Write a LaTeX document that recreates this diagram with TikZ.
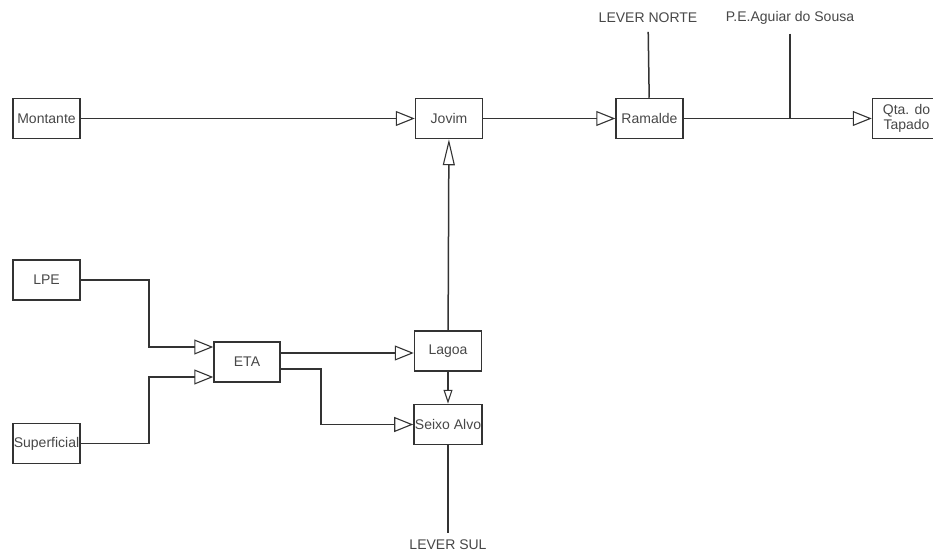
\documentclass[tikz,border=0pt]{standalone}
\usepackage{fontspec}
\setmainfont{Liberation Sans}
\usepackage{tikz}
\usetikzlibrary{arrows.meta, positioning, calc}
\tikzset{every node/.style={font=\fontsize{14}{15}\selectfont, text=black!72}}
\usepackage{xcolor}
\definecolor{wire}{HTML}{333333}

\begin{document}
\begin{tikzpicture}[x=1pt, y=-1pt, line width=1.5pt, draw=wire,
    box/.style={draw=wire, line width=1.5pt, minimum width=67pt, minimum height=40pt, inner sep=1pt},
    lbl/.style={inner sep=2pt, outer sep=7pt},
    arr/.style={-{Triangle[open, length=19pt, width=15pt, line width=1.1pt]}},
    arrup/.style={-{Triangle[open, length=26pt, width=12pt, line width=1.1pt]}},
    arrsm/.style={-{Triangle[open, length=14pt, width=9pt, line width=1.1pt]}}]
    \clip (0,0) rectangle (933,556);
    \node[box] (mont) at (46.5,118.5) {Montante};
    \node[box, right=334pt of mont] (jov) {Jovim};
    \node[box, right=132pt of jov] (ram) {Ramalde};
    \node[box, right=188pt of ram, minimum width=68pt, align=center] (qta) {Qta. do\\Tapado};
    \node[box] (lpe) at (46.5,280) {LPE};
    \node[box, below=122pt of lpe] (sup) {Superficial};
    \node[box, minimum width=66pt] (eta) at (247,362) {ETA};
    \node[box] (lag) at (448,351) {Lagoa};
    \node[box, below=32pt of lag] (seixo) {Seixo Alvo};
    \node[lbl] (lnorte) at (648,18) {LEVER NORTE};
    \node[lbl] (paguiar) at (790,18) {P.E.Aguiar do Sousa};
    \node[lbl, outer sep=5pt] (lsul) at (448,545) {LEVER SUL};
    \draw[arr] (mont) -- (jov);
    \draw[arr] (jov) -- (ram);
    \draw[arr] (ram) -- (qta);
    \draw (lnorte) -- (ram);
    \draw (paguiar) -- (paguiar |- ram.east);
    \draw[arrup] (lag) -- (jov);
    \draw[arrsm] (lag) -- (seixo);
    \draw (seixo) -- (lsul);
    \draw[arr] (lpe.east) -- ++(68,0) |- ([yshift=15pt]eta.west);
    \draw[arr] (sup.east) -- ++(68,0) |- ([yshift=-15pt]eta.west);
    \draw[arr] ([yshift=9pt]eta.east) -- ([yshift=9pt]eta.east -| lag.west);
    \draw[arr] ([yshift=-7pt]eta.east) -- ++(40,0) |- (seixo.west);
  \end{tikzpicture}
\end{document}
